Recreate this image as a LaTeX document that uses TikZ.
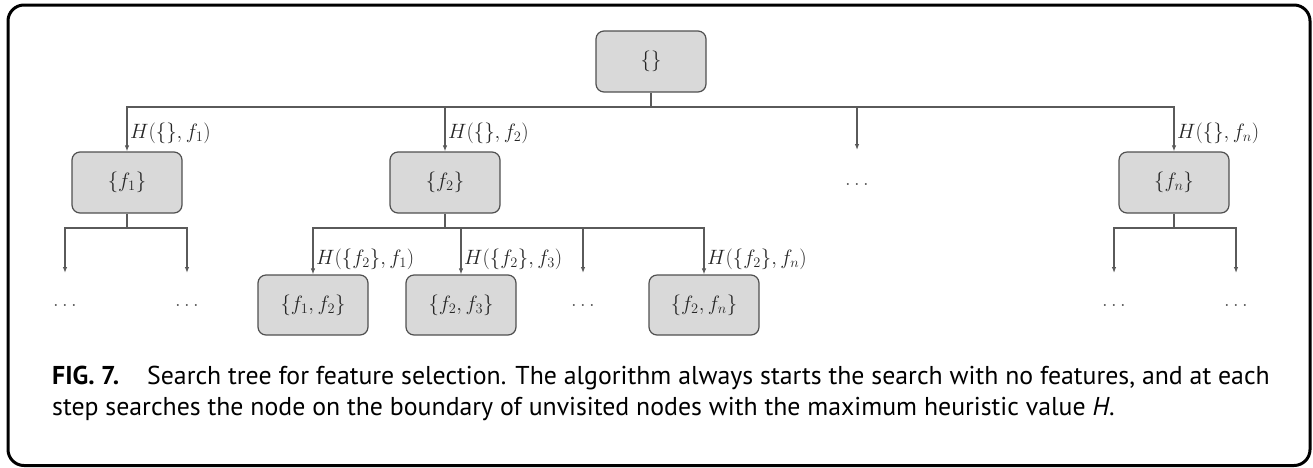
\documentclass[tikz,border=0pt]{standalone}
\usepackage{fontspec}
\setsansfont{PT Sans}
\usetikzlibrary{arrows.meta}
\definecolor{boxfill}{HTML}{D9D9D9}
\definecolor{boxline}{HTML}{505050}
\definecolor{wire}{HTML}{5A5A5A}
\tikzset{
  x=1pt, y=-1pt,
  setbox/.style={draw=boxline, fill=boxfill, line width=1.2pt, rounded corners=8pt,
    minimum width=110pt, minimum height=61pt, inner sep=0pt,
    font=\fontsize{22}{26}\selectfont, text=black!85},
  wire/.style={draw=wire, line width=1.1pt},
  arr/.style={wire, -{Latex[length=6pt,width=4.5pt]}},
  lbl/.style={anchor=base west, inner sep=0pt, font=\fontsize{22}{26}\selectfont, text=black!85},
  gap/.style={anchor=base, inner sep=0pt, font=\fontsize{22}{26}\selectfont, text=black!70},
  caption/.style={anchor=base west, inner sep=0pt, font=\sffamily\fontsize{25.8}{31}\selectfont, text=black}
}
\begin{document}
\begin{tikzpicture}
\useasboundingbox (0,0) rectangle (1313,467);
% outer frame
\draw[line width=3pt, rounded corners=16pt] (8,5) rectangle (1310,465.5);

% root and first level
\node[setbox] (root) at (651,61.5) {$\{\}$};
\node[setbox] (s1) at (127,182.5) {$\{f_1\}$};
\node[setbox] (s2) at (445,182.5) {$\{f_2\}$};
\node[setbox] (sn) at (1174,182.5) {$\{f_n\}$};
\coordinate (bus1) at (651,107);
\coordinate (mid) at (857,150);
\node[gap] (middots) at (857,185) {$\dots$};

\draw[wire] (root.south) -- (bus1);
\draw[arr] (bus1) -| (s1.north);
\draw[arr] (bus1) -| (s2.north);
\draw[arr] (bus1) -| (mid);
\draw[arr] (bus1) -| (sn.north);

\node[lbl] (h1) at (130,138) {$H(\{\},f_1)$};
\node[lbl] (h2) at (448,138) {$H(\{\},f_2)$};
\node[lbl] (hn) at (1177,138) {$H(\{\},f_n)$};

% second level under {f1}
\coordinate (b1) at (127,228);
\coordinate (a1) at (65,273);
\coordinate (a2) at (187,273);
\node[gap] (d1) at (65,306) {$\dots$};
\node[gap] (d2) at (187,306) {$\dots$};
\draw[wire] (s1.south) -- (b1);
\draw[arr] (b1) -| (a1);
\draw[arr] (b1) -| (a2);

% second level under {f2}
\node[setbox, minimum height=60pt] (s12) at (313,305) {$\{f_1,f_2\}$};
\node[setbox, minimum height=60pt] (s23) at (461,305) {$\{f_2,f_3\}$};
\node[setbox, minimum height=60pt] (s2n) at (704,305) {$\{f_2,f_n\}$};
\coordinate (b2) at (445,228);
\coordinate (a3) at (583,273);
\node[gap] (d3) at (583,306) {$\dots$};
\draw[wire] (s2.south) -- (b2);
\draw[arr] (b2) -| (s12.north);
\draw[arr] (b2) -| (s23.north);
\draw[arr] (b2) -| (a3);
\draw[arr] (b2) -| (s2n.north);

\node[lbl] (h12) at (316,264) {$H(\{f_2\},f_1)$};
\node[lbl] (h23) at (464,264) {$H(\{f_2\},f_3)$};
\node[lbl] (h2n) at (707,264) {$H(\{f_2\},f_n)$};

% second level under {fn}
\coordinate (bn) at (1174,228);
\coordinate (a4) at (1114,273);
\coordinate (a5) at (1236,273);
\node[gap] (d4) at (1114,306) {$\dots$};
\node[gap] (d5) at (1236,306) {$\dots$};
\draw[wire] (sn.south) -- (bn);
\draw[arr] (bn) -| (a4);
\draw[arr] (bn) -| (a5);

% caption
\node[caption] (cap1) at (52,384) {\textbf{FIG. 7.}\hspace{28pt}Search tree for feature selection. The algorithm always starts the search with no features, and at each};
\node[caption] (cap2) at (52,415) {step searches the node on the boundary of unvisited nodes with the maximum heuristic value \textit{H}.};
\end{tikzpicture}
\end{document}
